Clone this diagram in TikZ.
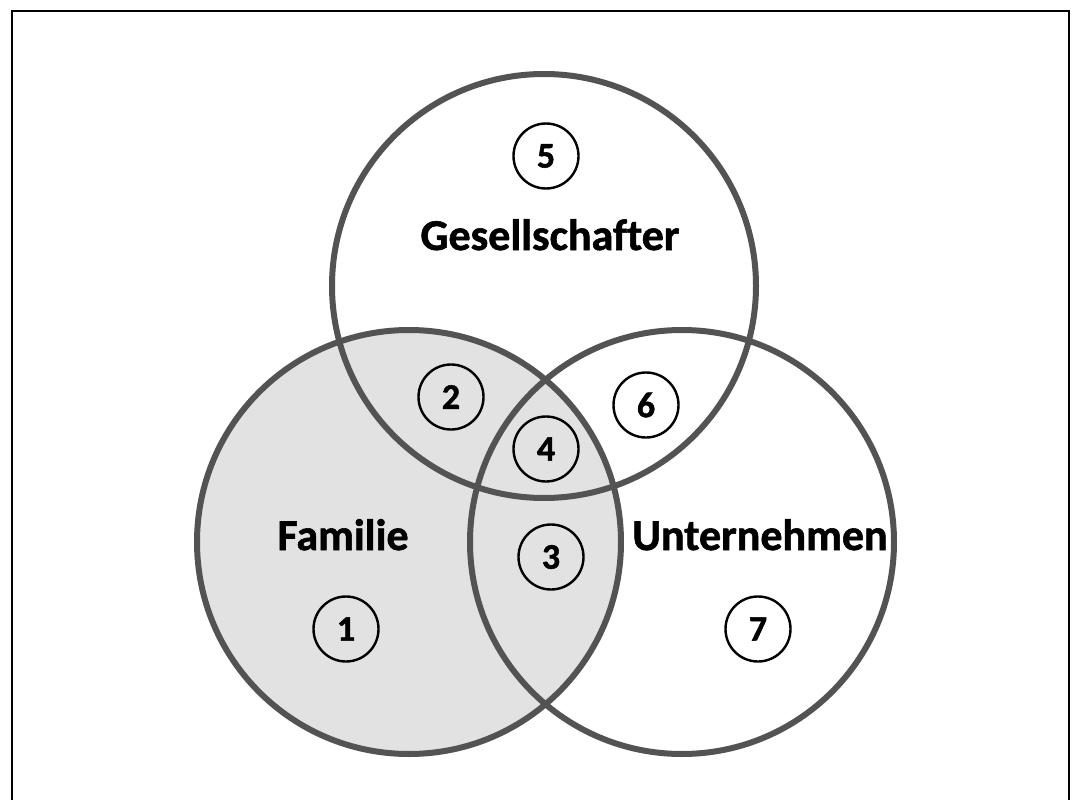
\documentclass[tikz,border=0pt]{standalone}
\usepackage{fontspec}
\setmainfont[Ligatures=NoCommon, BoldFeatures={FakeBold=1.3}]{Carlito}
\definecolor{ringgray}{HTML}{535353}
\definecolor{famfill}{HTML}{E2E2E2}
\begin{document}
\begin{tikzpicture}[x=1pt,y=-1pt,
  ring/.style={circle, draw=ringgray, line width=6pt, minimum size=424pt, inner sep=0pt},
  badge/.style={circle, draw=black, line width=2.4pt, minimum size=65pt, inner sep=0pt,
    font=\fontsize{36}{36}\selectfont\bfseries},
  title/.style={font=\fontsize{44}{44}\selectfont\bfseries, inner sep=0pt, anchor=base}]
  \useasboundingbox (0,0) rectangle (1077,800);
  % frame (bottom edge runs off the page)
  \draw[line width=2.4pt] (12,815) -- (12,11) -- (1069,11) -- (1069,815);
  % the three sets
  \node[ring, fill=famfill] (fam) at (409,542) {};
  \node[ring] (ges) at (544,286) {};
  \node[ring] (unt) at (682,542) {};
  % set names
  \node[title] (tges) at (550,250) {Gesellschafter};
  \node[title] (tfam) at (343,550) {Familie};
  \node[title] (tunt) at (760,550) {Unternehmen};
  % numbered regions
  \node[badge] (n1) at (346,629) {1};
  \node[badge] (n2) at (451,397) {2};
  \node[badge] (n3) at (551,557) {3};
  \node[badge] (n4) at (546,449) {4};
  \node[badge] (n5) at (546,156) {5};
  \node[badge] (n6) at (646,405) {6};
  \node[badge] (n7) at (758,629) {7};
\end{tikzpicture}
\end{document}
